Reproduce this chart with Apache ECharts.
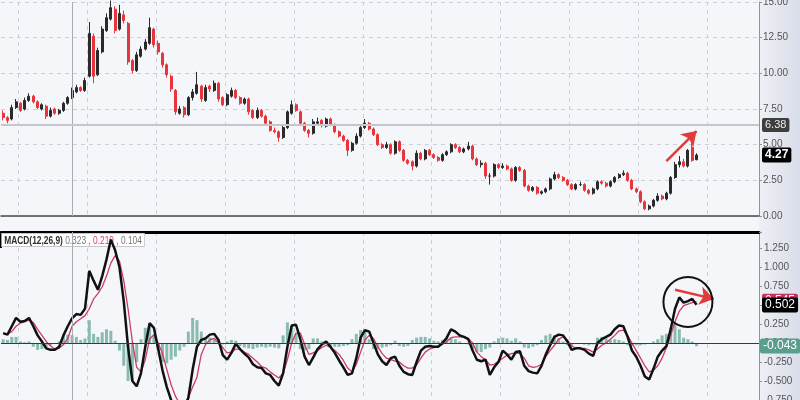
<!DOCTYPE html>
<html><head><meta charset="utf-8">
<script src="https://cdn.jsdelivr.net/npm/echarts/dist/echarts.min.js"></script>
<style>html,body{margin:0;padding:0;background:#f5f6fa}#c{width:800px;height:400px}</style>
</head><body><div id="c"></div>
<script>
// ---- price candles (open, close, low, high) ----
const openP = [
7.2,6.9,6.8,7.6,7.9,7.5,8.1,8.4,8.0,7.5,
7.7,7.0,7.5,7.2,7.4,7.9,8.3,8.7,9.0,8.8,
9.8,12.6,9.9,11.5,13.0,13.8,14.5,13.1,14.1,13.5,
10.9,10.2,11.2,11.7,12.1,13.1,12.1,11.4,10.6,9.8,
8.8,7.2,7.6,7.1,8.3,8.6,9.1,8.1,9.1,8.8,
9.3,8.3,7.8,8.4,8.8,8.3,7.9,8.2,7.4,6.9,
7.4,7.0,6.6,6.0,5.9,5.5,6.2,7.2,7.8,7.3,
6.5,6.0,5.8,6.5,6.7,6.3,6.8,6.4,5.9,5.6,
5.3,4.6,5.1,5.6,6.2,6.5,6.1,5.7,5.0,4.8,
5.0,4.4,5.2,4.6,3.9,3.8,3.5,4.4,4.0,4.6,
4.3,4.1,3.9,4.3,4.5,5.0,4.8,4.5,4.7,4.9,
4.0,3.6,3.7,2.8,2.8,3.6,3.4,3.5,3.3,2.5,
3.4,3.2,2.1,1.8,2.0,1.6,1.7,1.9,2.6,2.9,
2.7,2.5,2.2,1.9,2.2,2.2,1.8,1.6,1.9,2.4,
2.3,2.1,2.4,2.7,2.9,3.0,2.5,1.9,1.7,1.0,
0.5,0.7,1.1,1.4,1.2,1.6,2.7,3.6,3.8,3.5,
4.8,3.95];
const closeP = [
6.9,6.7,7.6,8.0,7.4,8.1,8.4,8.0,7.6,7.8,
7.0,7.4,7.2,7.4,7.9,8.3,8.8,9.0,8.8,9.5,
12.8,9.8,11.6,13.1,13.9,14.6,13.0,14.2,13.7,10.8,
10.2,11.3,11.7,12.2,13.2,12.0,11.5,10.6,9.9,8.9,
7.3,7.5,7.1,8.3,8.7,9.2,8.2,9.0,8.9,9.3,
8.2,7.8,8.5,8.8,8.3,7.9,8.2,7.3,6.9,7.4,
7.0,6.5,6.0,5.9,5.5,6.2,7.3,7.8,7.4,6.5,
6.0,5.8,6.6,6.6,6.4,6.8,6.4,5.9,5.6,5.3,
4.6,5.1,5.6,6.2,6.5,6.1,5.7,5.0,4.8,5.0,
4.4,5.2,4.6,3.9,3.7,3.5,4.4,4.0,4.6,4.3,
4.1,3.9,4.3,4.5,5.0,4.8,4.5,4.7,4.9,4.0,
3.6,3.7,2.8,2.8,3.6,3.4,3.5,3.3,2.5,3.4,
3.2,2.1,1.8,2.0,1.6,1.7,1.9,2.6,2.9,2.7,
2.5,2.2,1.9,2.2,2.2,1.8,1.6,1.9,2.4,2.3,
2.1,2.4,2.7,2.9,3.0,2.5,1.9,1.7,1.0,0.5,
0.7,1.1,1.4,1.2,1.6,2.7,3.6,3.8,3.5,4.6,
3.9,4.27];
const lowP = [
6.7,6.5,6.7,7.5,7.3,7.4,8.0,7.9,7.5,7.4,
6.8,6.9,7.1,7.1,7.3,7.8,8.2,8.6,8.7,8.7,
9.7,9.3,9.8,11.4,12.9,13.7,12.8,13.0,13.5,10.6,
10.0,10.1,11.1,11.6,12.0,11.8,11.3,10.4,9.7,8.7,
7.1,7.1,6.9,7.0,8.1,8.5,8.0,8.0,8.7,8.7,
8.0,7.7,7.7,8.3,8.2,7.8,7.8,7.1,6.8,6.8,
6.9,6.4,5.9,5.8,5.2,5.4,6.1,7.1,7.3,6.4,
5.9,5.5,5.7,6.4,6.2,6.2,6.3,5.8,5.5,5.2,
4.2,4.5,5.0,5.5,6.1,6.0,5.6,4.9,4.7,4.7,
4.3,4.3,4.5,3.8,3.6,3.2,3.4,3.9,3.9,4.2,
4.0,3.8,3.8,4.2,4.4,4.7,4.4,4.4,4.6,3.9,
3.5,3.4,2.6,2.2,2.7,3.3,3.3,3.2,2.4,2.4,
3.1,2.0,1.7,1.7,1.5,1.5,1.6,1.8,2.5,2.6,
2.4,2.1,1.8,1.8,2.1,1.7,1.5,1.5,1.8,2.2,
2.0,2.0,2.3,2.6,2.8,2.4,1.8,1.6,0.9,0.4,
0.4,0.6,1.0,1.1,1.1,1.5,2.6,3.4,3.4,3.4,
3.8,3.9];
const highP = [
7.4,7.0,7.8,8.2,8.0,8.3,8.6,8.5,8.1,7.9,
7.8,7.6,7.6,7.5,8.0,8.4,9.0,9.2,9.1,9.7,
13.6,12.8,11.8,13.3,14.2,15.1,14.7,14.8,14.4,13.6,
11.0,11.5,11.9,12.4,13.9,13.2,12.3,11.5,10.7,9.9,
8.9,7.7,7.7,8.4,8.9,10.1,9.2,9.2,9.2,9.5,
9.4,8.4,8.6,9.0,8.9,8.4,8.3,8.3,7.5,7.6,
7.5,7.1,6.7,6.2,6.0,6.4,7.4,8.1,7.9,7.4,
6.6,6.1,6.8,6.9,6.8,6.9,6.9,6.5,6.0,5.7,
5.4,5.2,5.8,6.3,6.8,6.6,6.2,5.8,5.1,5.2,
5.1,5.3,5.3,4.7,4.0,3.9,4.6,4.5,4.7,4.7,
4.4,4.2,4.4,4.6,5.1,5.1,4.9,4.8,5.2,5.0,
4.1,3.9,3.8,3.0,3.7,3.7,3.7,3.6,3.4,3.5,
3.5,3.3,2.2,2.1,2.1,1.8,2.0,2.7,3.1,3.0,
2.8,2.6,2.3,2.3,2.4,2.3,1.9,2.0,2.5,2.5,
2.4,2.5,2.8,3.0,3.2,3.1,2.6,2.0,1.8,1.1,
0.8,1.2,1.6,1.5,1.7,2.8,3.8,4.2,4.0,4.7,
5.2,4.4];
const levelLine = 6.38;

// ---- MACD(12,26,9) ----
const macdLine = [
0.13,0.11,0.22,0.33,0.28,0.29,0.33,0.22,0.10,0.02,
-0.07,-0.09,-0.09,-0.05,0.10,0.22,0.323,0.38,0.37,0.45,
0.95,0.82,0.70,0.88,1.10,1.36,1.22,1.00,0.55,-0.05,
-0.50,-0.57,-0.40,-0.05,0.26,0.20,-0.08,-0.36,-0.58,-0.75,
-0.88,-0.92,-0.88,-0.72,-0.35,-0.05,0.04,0.06,0.11,0.12,
0.04,-0.16,-0.22,-0.13,-0.01,-0.08,-0.14,-0.19,-0.28,-0.32,
-0.33,-0.40,-0.42,-0.50,-0.56,-0.40,-0.05,0.23,0.24,0.05,
-0.18,-0.29,-0.19,-0.08,-0.02,0.02,-0.05,-0.13,-0.23,-0.32,
-0.42,-0.40,-0.20,0.07,0.17,0.15,0.00,-0.15,-0.24,-0.29,
-0.20,-0.18,-0.30,-0.38,-0.41,-0.42,-0.25,-0.10,-0.05,-0.04,
-0.05,-0.05,0.00,0.07,0.18,0.15,0.10,0.08,0.05,-0.10,
-0.22,-0.24,-0.22,-0.42,-0.32,-0.25,-0.10,-0.15,-0.22,-0.12,
-0.11,-0.30,-0.37,-0.39,-0.40,-0.30,-0.15,-0.03,0.08,0.11,
0.10,0.02,-0.09,-0.07,-0.07,-0.09,-0.14,-0.17,0.00,0.05,
0.08,0.11,0.18,0.23,0.22,0.08,-0.10,-0.18,-0.30,-0.44,
-0.48,-0.34,-0.18,-0.10,-0.04,0.18,0.45,0.60,0.53,0.55,
0.58,0.502];
const signalLine = [
0.12,0.12,0.15,0.22,0.26,0.28,0.30,0.27,0.18,0.10,
0.02,-0.04,-0.08,-0.07,-0.02,0.06,0.219,0.28,0.32,0.36,
0.45,0.58,0.65,0.74,0.88,1.05,1.15,1.08,0.82,0.45,
0.02,-0.32,-0.38,-0.22,0.05,0.11,0.00,-0.14,-0.35,-0.55,
-0.70,-0.80,-0.80,-0.72,-0.58,-0.45,-0.15,-0.02,0.04,0.06,
0.00,-0.06,-0.13,-0.12,-0.08,-0.08,-0.12,-0.15,-0.20,-0.25,
-0.31,-0.33,-0.38,-0.42,-0.46,-0.40,-0.22,0.00,0.13,0.13,
-0.02,-0.15,-0.13,-0.10,-0.06,-0.03,-0.06,-0.10,-0.15,-0.23,
-0.33,-0.38,-0.28,-0.12,0.04,0.10,0.06,-0.05,-0.14,-0.20,
-0.22,-0.24,-0.25,-0.30,-0.33,-0.33,-0.29,-0.20,-0.12,-0.08,
-0.06,-0.04,-0.02,0.02,0.07,0.08,0.08,0.08,0.06,0.00,
-0.12,-0.18,-0.22,-0.29,-0.28,-0.24,-0.20,-0.16,-0.14,-0.13,
-0.14,-0.20,-0.30,-0.32,-0.31,-0.28,-0.18,-0.10,-0.03,0.05,
0.08,0.04,-0.04,-0.07,-0.07,-0.07,-0.09,-0.12,-0.08,-0.03,
0.00,0.05,0.10,0.16,0.17,0.10,0.00,-0.10,-0.20,-0.30,
-0.38,-0.36,-0.30,-0.20,-0.06,0.10,0.28,0.42,0.49,0.51,
0.53,0.545];
const histogram = [
0.05,0.04,0.08,0.08,0.02,0.01,0.02,-0.05,-0.09,-0.08,
-0.06,-0.03,0.00,0.02,0.10,0.11,0.104,0.08,0.04,0.06,
0.30,0.12,0.08,0.14,0.18,0.16,0.03,-0.10,-0.30,-0.50,
-0.50,-0.25,0.05,0.20,0.24,0.10,-0.10,-0.25,-0.27,-0.22,
-0.18,-0.10,-0.05,0.15,0.33,0.30,0.15,0.08,0.07,0.05,
0.02,-0.02,0.02,0.04,0.03,-0.04,-0.06,-0.07,-0.08,-0.06,
-0.05,-0.06,-0.05,-0.06,-0.07,0.10,0.27,0.22,0.12,-0.08,
-0.10,-0.08,0.06,0.06,0.02,-0.02,-0.04,-0.05,-0.05,-0.04,
-0.03,0.05,0.12,0.17,0.15,0.05,-0.08,-0.08,-0.06,-0.05,
-0.03,0.03,-0.04,-0.05,-0.04,0.04,0.07,0.08,0.08,0.06,
0.03,0.02,0.04,0.07,0.07,0.05,0.02,0.00,-0.02,-0.08,
-0.12,-0.12,-0.08,-0.06,0.02,0.06,0.07,0.06,0.03,0.06,
0.02,-0.06,-0.07,-0.05,-0.03,0.04,0.10,0.12,0.10,0.06,
0.02,-0.03,-0.04,0.00,-0.01,-0.02,-0.03,-0.02,0.07,0.08,
0.06,0.04,0.05,0.04,0.02,-0.03,-0.04,-0.03,-0.03,-0.02,
-0.01,0.02,0.05,0.10,0.12,0.20,0.25,0.18,0.07,0.05,
0.02,-0.043];
const crossIdx = 16;     // crosshair bar
const slotCount = 176;   // axis slots (data + empty right margin)

const chart = echarts.init(document.getElementById('c'));
const cats = Array.from({length: slotCount}, (_, i) => String(i));
const candles = closeP.map((c, i) => [openP[i], c, lowP[i], highP[i]]);
const last = closeP.length - 1;
const FONT = "'Liberation Sans',Arial,sans-serif";
const vGrid = {show: true, interval: (i) => (i - 4) % 16 === 0, lineStyle: {color: '#cdd0d8', type: [4, 4], width: 1}};
const tag = (bg, fg, bold, fs) => ({show: true, position: 'end', distance: 3, backgroundColor: bg, color: fg,
  fontSize: fs, fontFamily: FONT, fontWeight: bold ? 'bold' : 'normal', padding: [2, 3, 1, 3], borderRadius: 2});
const noLine = {color: 'rgba(0,0,0,0)', width: 1, type: 'solid'};

chart.setOption({
  animation: false,
  backgroundColor: '#f5f6fa',
  graphic: {elements: [
    {type: 'rect', z: -100, silent: true, shape: {x: 759, y: 0, width: 41, height: 400},
     style: {fill: new echarts.graphic.LinearGradient(0, 0, 1, 0, [{offset: 0, color: '#eef0f6'}, {offset: 1, color: '#d9dde9'}])}},
    {type: 'rect', z: 1, silent: true, shape: {x: 0, y: 234, width: 2, height: 14}, style: {fill: '#000'}},
    {type: 'text', z: 1, silent: true, x: 2, y: 234, scaleX: 0.76, scaleY: 1,
     style: {text: '{a|MACD(12,26,9)} {v|' + macdLine[crossIdx].toFixed(3) + '} {v|,} {s|' + signalLine[crossIdx].toFixed(3) + '} {v|,} {v|' + histogram[crossIdx].toFixed(3) + '}',
       backgroundColor: '#ffffff', borderColor: '#c4c6cc', borderWidth: 1, padding: [1, 3, 0, 3],
       font: '11px ' + FONT,
       rich: {a: {fill: '#2d2d2d', fontSize: 11, fontFamily: FONT, fontWeight: 'bold'},
              v: {fill: '#777', fontSize: 11, fontFamily: FONT},
              s: {fill: '#d2406e', fontSize: 11, fontFamily: FONT}}}}
  ]},
  grid: [
    {left: 1, right: 41, top: 2, height: 214, outerBoundsMode: 'none', containLabel: false},
    {left: 1, right: 41, top: 232, height: 187, outerBoundsMode: 'none', containLabel: false}
  ],
  xAxis: [
    {type: 'category', data: cats, gridIndex: 0, boundaryGap: true,
     axisLine: {show: true, onZero: false, lineStyle: {color: '#4a4a4a', width: 1.5}},
     axisTick: {show: false}, axisLabel: {show: false}, splitLine: vGrid},
    {type: 'category', data: cats, gridIndex: 1, boundaryGap: true, position: 'top',
     axisLine: {show: true, onZero: false, lineStyle: {color: '#000', width: 3}},
     axisTick: {show: false}, axisLabel: {show: false}, splitLine: vGrid}
  ],
  yAxis: [
    {type: 'value', gridIndex: 0, position: 'right', min: 0, max: 15, interval: 2.5,
     axisLine: {show: true, lineStyle: {color: '#8d93a3'}},
     axisTick: {show: true, length: 3, lineStyle: {color: '#8d93a3'}},
     axisLabel: {margin: 4, color: '#555', fontSize: 10, fontFamily: FONT, formatter: v => v.toFixed(2)},
     splitLine: {show: true, lineStyle: {color: '#cdd0d8', type: [4, 4]}}},
    {type: 'value', gridIndex: 1, position: 'right', min: -1, max: 1.46, interval: 0.25,
     axisLine: {show: true, lineStyle: {color: '#8d93a3'}},
     axisTick: {show: true, length: 3, lineStyle: {color: '#8d93a3'}},
     axisLabel: {margin: 5, color: '#555', fontSize: 10, fontFamily: FONT,
       formatter: v => (Math.abs(v / 0.25 - Math.round(v / 0.25)) < 1e-6 ? v.toFixed(3) : '')},
     splitLine: {show: false}}
  ],
  series: [
    {type: 'candlestick', xAxisIndex: 0, yAxisIndex: 0, data: candles, barWidth: 2.5, clip: false,
     itemStyle: {color: '#2a2a2a', color0: '#e8353b', borderColor: '#2a2a2a', borderColor0: '#e8353b', borderWidth: 1},
     markLine: {silent: true, symbol: ['none', 'none'], animation: false,
       data: [
         {xAxis: crossIdx, lineStyle: {color: '#a9acb3', width: 1, type: 'solid'}, label: {show: false}},
         {yAxis: levelLine, lineStyle: {color: '#c5c7cc', width: 2, type: 'solid'}, label: Object.assign(tag('#3e3e3e', '#eeeeee', false, 11), {formatter: levelLine.toFixed(2)})},
         {yAxis: closeP[last], lineStyle: noLine, label: Object.assign(tag('#000', '#fff', true, 12), {formatter: closeP[last].toFixed(2)})},
         [{coord: [154, 3.85], symbol: 'none'},
          {coord: [161, 5.95], symbol: 'arrow', symbolSize: 14, lineStyle: {color: '#e23b3b', width: 2.5, type: 'solid'}, label: {show: false}}]
       ]}},
    {type: 'bar', xAxisIndex: 1, yAxisIndex: 1, data: histogram, barWidth: 3,
     itemStyle: {color: 'rgba(92,163,147,0.7)'}},
    {type: 'line', xAxisIndex: 1, yAxisIndex: 1, data: signalLine, showSymbol: false, symbol: 'none',
     lineStyle: {color: '#cc3a66', width: 1.3}, z: 3},
    {type: 'line', xAxisIndex: 1, yAxisIndex: 1, data: macdLine, showSymbol: false, symbol: 'none',
     lineStyle: {color: '#111', width: 2.5}, z: 4,
     markLine: {silent: true, symbol: ['none', 'none'], animation: false,
       data: [
         {xAxis: crossIdx, lineStyle: {color: '#a9acb3', width: 1, type: 'solid'}, label: {show: false}},
         {yAxis: 0, lineStyle: {color: '#3a3a3a', width: 1, type: 'solid'}, label: {show: false}},
         {yAxis: signalLine[last], lineStyle: noLine, label: Object.assign(tag('#c8305e', '#fff', false, 12), {formatter: signalLine[last].toFixed(3)})},
         {yAxis: macdLine[last], lineStyle: noLine, label: Object.assign(tag('#000', '#fff', false, 12), {formatter: macdLine[last].toFixed(3)})},
         {yAxis: histogram[last], lineStyle: noLine, label: Object.assign(tag('#5a9e8e', '#fff', false, 12), {formatter: histogram[last].toFixed(3), distance: 1})},
         [{coord: [156, 0.70], symbol: 'none'},
          {coord: [165, 0.58], symbol: 'arrow', symbolSize: 14, lineStyle: {color: '#e23b3b', width: 2.5, type: 'solid'}, label: {show: false}}]
       ]},
     markPoint: {silent: true, animation: false,
       data: [{coord: [159, 0.54], symbol: 'circle', symbolSize: [49, 50],
         itemStyle: {color: 'rgba(0,0,0,0)', borderColor: '#111', borderWidth: 2}, label: {show: false}}]}}
  ]
});
</script>
</body></html>
